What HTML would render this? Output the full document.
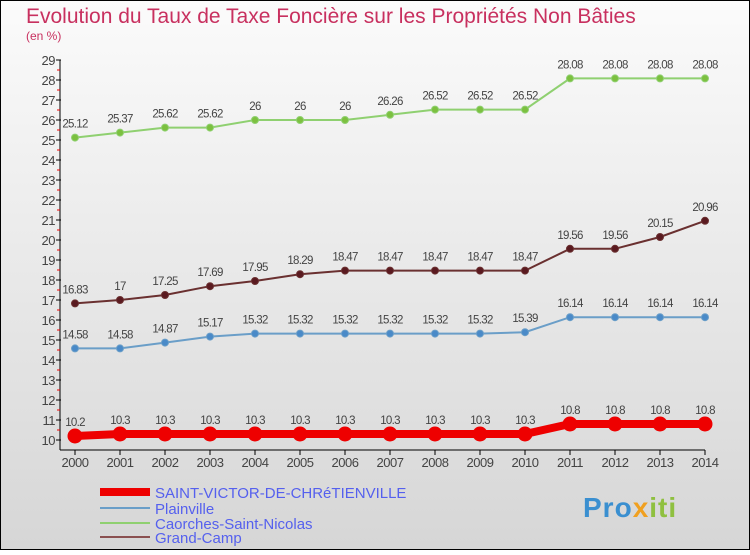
<!DOCTYPE html>
<html><head><meta charset="utf-8"><style>
body{margin:0}
svg text{font-family:"Liberation Sans",sans-serif}
</style></head><body>
<svg width="750" height="550" xmlns="http://www.w3.org/2000/svg">
<defs><linearGradient id="bg" x1="0" y1="0" x2="0" y2="1"><stop offset="0" stop-color="#fbfbfb"/><stop offset="1" stop-color="#d6d6d6"/></linearGradient></defs>
<rect x="0.5" y="0.5" width="749" height="549" fill="url(#bg)" stroke="#000"/>
<text x="26" y="23" font-size="21" fill="#c8305f">Evolution du Taux de Taxe Foncière sur les Propriétés Non Bâties</text>
<text x="26" y="40" font-size="12" fill="#c8305f">(en %)</text>
<g id="axes"></g><g id="series"></g>
<g>
<line x1="100" y1="492" x2="150" y2="492" stroke="#e00" stroke-width="8"/>
<text x="155" y="498" font-size="15" fill="#5560ee">SAINT-VICTOR-DE-CHRéTIENVILLE</text>
<line x1="100" y1="508" x2="150" y2="508" stroke="#6a9ec8" stroke-width="2"/>
<text x="155" y="514" font-size="15" fill="#5560ee">Plainville</text>
<line x1="100" y1="523" x2="150" y2="523" stroke="#8fd070" stroke-width="2"/>
<text x="155" y="529" font-size="15" fill="#5560ee">Caorches-Saint-Nicolas</text>
<line x1="100" y1="537" x2="150" y2="537" stroke="#8a5050" stroke-width="2"/>
<text x="155" y="543" font-size="15" fill="#5560ee">Grand-Camp</text>
</g>
<text x="583" y="517" font-size="28" font-weight="bold" fill="#3a8fd0" letter-spacing="1">Pro<tspan fill="#f0a020">x</tspan><tspan fill="#8fc040">iti</tspan></text>
</svg>
<script>
const years=[2000,2001,2002,2003,2004,2005,2006,2007,2008,2009,2010,2011,2012,2013,2014];
const yTicks=[10,11,12,13,14,15,16,17,18,19,20,21,22,23,24,25,26,27,28,29];
const saintVictor=[10.2,10.3,10.3,10.3,10.3,10.3,10.3,10.3,10.3,10.3,10.3,10.8,10.8,10.8,10.8];
const plainville=[14.58,14.58,14.87,15.17,15.32,15.32,15.32,15.32,15.32,15.32,15.39,16.14,16.14,16.14,16.14];
const caorches=[25.12,25.37,25.62,25.62,26,26,26,26.26,26.52,26.52,26.52,28.08,28.08,28.08,28.08];
const grandCamp=[16.83,17,17.25,17.69,17.95,18.29,18.47,18.47,18.47,18.47,18.47,19.56,19.56,20.15,20.96];
const NS="http://www.w3.org/2000/svg";
const X=i=>75+i*45, Y=v=>440-(v-10)*20;
function mk(t,a,p){const e=document.createElementNS(NS,t);for(const k in a)e.setAttribute(k,a[k]);p.appendChild(e);return e;}
const ax=document.getElementById('axes'), sg=document.getElementById('series');
let l=mk('line',{x1:60,y1:Y(29),x2:60,y2:450,stroke:'#000'},ax);


l=mk('line',{x1:60,y1:450,x2:X(14),y2:450,stroke:'#000'},ax);


yTicks.forEach(v=>{
 mk('line',{x1:56,y1:Y(v),x2:61,y2:Y(v),stroke:'#000'},ax);
 if(v<29) mk('line',{x1:57,y1:Y(v)-10,x2:60,y2:Y(v)-10,stroke:'#e00'},ax);
 const t=mk('text',{x:55,y:Y(v)+5,'font-size':13,fill:'#444','text-anchor':'end','letter-spacing':'-0.5'},ax);t.textContent=v;
 
 
});
years.forEach((yr,i)=>{
 mk('line',{x1:X(i),y1:450,x2:X(i),y2:455,stroke:'#000'},ax);
 const t=mk('text',{x:X(i),y:467,'font-size':13,fill:'#444','text-anchor':'middle','letter-spacing':'-0.5'},ax);t.textContent=yr;
 
 
});
function series(d,name,col,w,r,dot){
 const p=mk('polyline',{points:d.map((v,i)=>X(i)+','+Y(v)).join(' '),fill:'none',stroke:col,'stroke-width':w},sg);
 
 
 d.forEach((v,i)=>{
  const c=mk('circle',{cx:X(i),cy:Y(v),r:r,fill:dot,stroke:col,'stroke-width':1},sg);
  
  
  const t=mk('text',{x:X(i),y:Y(v)-10,'font-size':11.5,fill:'#444','text-anchor':'middle','letter-spacing':'-0.7'},sg);t.textContent=v;
  
  
 });
}
series(caorches,'caorches','#8fd070',2,3.5,'#7cc040');
series(grandCamp,'grand-camp','#6a3030',2,3.5,'#5a1a20');
series(plainville,'plainville','#6a9ec8',2,3.5,'#4a8ac8');
series(saintVictor,'saint-victor','#e00',8,7,'#e00');
</script>
</body></html>
